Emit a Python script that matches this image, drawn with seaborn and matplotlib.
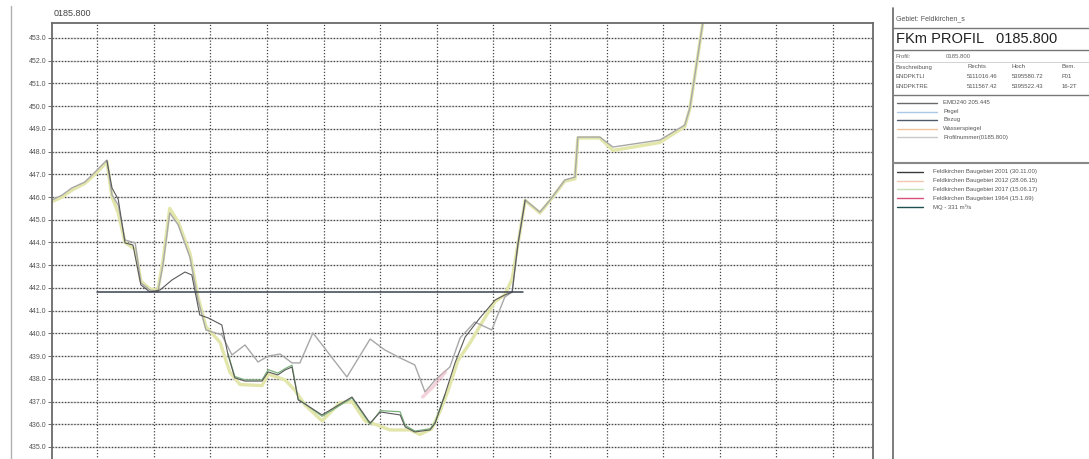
import matplotlib
matplotlib.use("Agg")
import matplotlib.pyplot as plt
from matplotlib.lines import Line2D
import seaborn as sns
import numpy as np

gray_x = [0.0, 1.8, 3.5, 5.8, 7.6, 9.7, 10.6, 11.7, 12.9, 14.7, 15.7, 17.3, 18.7, 19.6, 20.8, 22.3,
          24.4, 25.8, 27.2, 30.0, 31.8, 34.1, 36.4, 38.2, 40.3, 42.4, 43.8, 46.1, 49.1, 52.1, 56.2,
          58.8, 61.5, 64.1, 65.9, 67.7, 70.3, 72.1, 74.7, 77.7, 80.0, 81.3, 82.3, 83.6, 86.2, 88.0,
          90.6, 92.4, 92.9, 96.8, 99.1, 107.4, 111.8, 112.7, 115.0]
gray_y = [445.87, 446.09, 446.40, 446.66, 447.10, 447.63, 446.09, 445.65, 444.11, 443.98, 442.22,
          441.91, 441.82, 443.01, 445.30, 444.77, 443.32, 441.47, 440.15, 439.93, 439.05, 439.49,
          438.74, 439.00, 439.09, 438.70, 438.70, 440.02, 439.05, 438.08, 439.75, 439.27, 438.92,
          438.61, 437.42, 437.95, 438.52, 439.80, 440.50, 440.15, 441.60, 441.82, 443.89, 445.87,
          445.34, 445.87, 446.75, 446.88, 448.64, 448.64, 448.20, 448.51, 449.17, 449.92, 453.70]

yellow_x = [0.0, 1.8, 3.5, 5.8, 7.6, 9.7, 10.6, 11.7, 12.9, 14.7, 15.7, 17.3, 18.7, 19.6, 20.8, 22.3,
            24.4, 25.8, 27.2, 29.7, 31.4, 33.2, 37.1, 38.2, 41.2, 42.9, 44.7, 47.7, 50.9, 53.0, 55.3,
            57.6, 59.7, 63.3, 65.0, 67.1, 68.6, 70.0, 71.7, 73.9, 76.5, 78.3, 80.0, 81.3, 82.3, 83.6,
            86.2, 88.0, 90.6, 92.4, 92.9, 96.8, 99.1, 107.4, 111.8, 112.7, 115.0]
yellow_y = [445.80, 446.00, 446.30, 446.60, 447.00, 447.55, 446.00, 445.30, 444.00, 443.70, 442.30,
            441.95, 441.90, 443.20, 445.50, 444.90, 443.50, 441.60, 440.30, 439.60, 438.30, 437.75,
            437.70, 438.20, 437.95, 437.50, 436.85, 436.15, 436.95, 437.00, 436.15, 435.95, 435.75,
            435.75, 435.55, 435.80, 436.60, 437.50, 438.80, 439.60, 440.70, 441.40, 441.70, 442.40,
            443.90, 445.85, 445.30, 445.85, 446.70, 446.80, 448.60, 448.60, 448.05, 448.40, 449.10,
            449.90, 453.70]

dark_x = [9.7, 10.6, 11.7, 12.9, 14.3, 15.7, 17.3, 19.1, 21.2, 23.5, 24.7, 26.1, 27.6, 30.0, 31.1,
          32.3, 34.1, 37.1, 38.2, 39.9, 41.2, 42.4, 43.5, 44.7, 47.7, 53.0, 56.2, 58.0, 61.5, 62.4,
          64.1, 66.8, 67.7, 69.4, 71.2, 73.0, 75.6, 78.3, 80.0, 81.3, 82.3, 83.6]
dark_y = [447.60, 446.40, 445.90, 443.98, 443.89, 442.13, 441.82, 441.91, 442.35, 442.70, 442.57,
          440.81, 440.68, 440.37, 439.05, 438.04, 437.90, 437.90, 438.30, 438.17, 438.39, 438.52,
          437.07, 436.89, 436.41, 437.20, 436.05, 436.54, 436.41, 435.88, 435.66, 435.75, 436.05,
          437.29, 438.70, 439.84, 440.68, 441.47, 441.69, 441.82, 443.89, 445.87]

green_x = [31.1, 32.3, 34.1, 37.1, 38.2, 39.9, 41.2, 42.4, 43.5, 44.7, 47.7, 53.0, 56.2, 58.0, 61.5,
           62.4, 64.1, 66.8, 67.7, 69.4]
green_y = [439.10, 438.10, 437.95, 437.95, 438.40, 438.25, 438.45, 438.60, 437.10, 436.90, 436.35,
           437.15, 436.00, 436.60, 436.55, 435.95, 435.70, 435.80, 436.10, 437.30]

pink_x = [65.5, 67.5, 69.5]
pink_y = [437.20, 437.70, 438.30]

mq_x = [8.0, 83.2]
mq_y = [441.82, 441.82]

y_ticks = np.arange(435, 454, 1.0)
x_grid = np.arange(8, 140, 10)

legend1 = ["EMD240 205.445", "Pegel", "Bezug", "Wasserspiegel", "Profilnummer(0185.800)"]
legend1_colors = ["#6a6a6a", "#a9c9e6", "#4f5a6a", "#f0c49a", "#c9c9c9"]
legend2 = ["Feldkirchen Baugebiet 2001 (30.11.00)", "Feldkirchen Baugebiet 2012 (28.06.15)",
           "Feldkirchen Baugebiet 2017 (15.06.17)", "Feldkirchen Baugebiet 1964 (15.1.69)",
           "MQ - 331 m³/s"]
legend2_colors = ["#3a3a3a", "#f2c6b2", "#c2e3b8", "#d8507a", "#1f4f4f"]

sns.set_theme(style="white")
plt.rcParams["font.family"] = ["Liberation Sans", "DejaVu Sans"]

W, H = 1089, 459
fig = plt.figure(figsize=(W / 100, H / 100), dpi=100)


def fx(p):
    return p / W


def fy(p):
    return 1 - p / H


# main axis: bottom runs off the lower edge of the sheet
ax = fig.add_axes([fx(52), fy(492.4), fx(873 - 52), (492.4 - 23) / H])
ax.set_xlim(0, 145.05)
ax.set_ylim(433.0, 453.66)

for y in y_ticks:
    ax.axhline(y, color="#d2d2d2", lw=1.0, zorder=0)
ax.set_yticks(y_ticks)
ax.set_yticklabels([f"{v:.1f}" for v in y_ticks])
ax.set_xticks(x_grid)
ax.grid(True, color="#444444", linestyle=(0, (1, 1.5)), linewidth=0.9)
ax.tick_params(axis="y", labelsize=5, labelcolor="#555555", length=3, width=0.6,
               color="#555555", pad=1, left=True)
ax.tick_params(axis="x", labelbottom=False, bottom=False)
for s in ["left", "top", "right"]:
    ax.spines[s].set_color("#6a6a6a")
    ax.spines[s].set_linewidth(1.3)

sns.lineplot(x=yellow_x, y=yellow_y, ax=ax, color="#e3e6aa", linewidth=2.4, sort=False, estimator=None)
sns.lineplot(x=gray_x, y=gray_y, ax=ax, color="#a8a8a8", linewidth=1.0, sort=False, estimator=None)
sns.lineplot(x=green_x, y=green_y, ax=ax, color="#7cb27e", linewidth=0.9, sort=False, estimator=None)
sns.lineplot(x=dark_x, y=dark_y, ax=ax, color="#5a5a5a", linewidth=0.8, sort=False, estimator=None)
sns.lineplot(x=pink_x, y=pink_y, ax=ax, color="#eab0be", linewidth=2.5, alpha=0.55, sort=False, estimator=None)
sns.lineplot(x=mq_x, y=mq_y, ax=ax, color="#3b4250", linewidth=1.1, sort=False, estimator=None)

fig.text(fx(54), fy(13), "0185.800", fontsize=6.5, color="#444444", va="center")

# frame lines of the sheet
fig.add_artist(Line2D([fx(11), fx(11)], [0, fy(6)], color="#b0b0b0", lw=1.0))
fig.add_artist(Line2D([fx(893), fx(893)], [0, fy(8)], color="#666666", lw=1.2))
for yy, c, lw in [(28, "#777777", 1.0), (50, "#777777", 1.0), (62, "#cccccc", 0.6),
                  (95, "#777777", 1.0), (163, "#888888", 1.5)]:
    fig.add_artist(Line2D([fx(893), 1], [fy(yy), fy(yy)], color=c, lw=lw))

# title block
fig.text(fx(896), fy(19), "Gebiet: Feldkirchen_s", fontsize=5, color="#555555", va="center")
fig.text(fx(896), fy(39), "FKm PROFIL   0185.800", fontsize=10.5, color="#222222", va="center")
fig.text(fx(896), fy(57), "Profil:", fontsize=4.3, color="#666666", va="center")
fig.text(fx(946), fy(57), "0185.800", fontsize=4.3, color="#666666", va="center")
rows = [("Beschreibung", "Rechts", "Hoch", "Bem."),
        ("ENDPKTLI", "5111016.46", "5395580.72", "F01"),
        ("ENDPKTRE", "5111567.42", "5395522.43", "16-2T")]
for i, row in enumerate(rows):
    yy = fy(67 + i * 9.5)
    fig.text(fx(896), yy, row[0], fontsize=4.3, color="#555555", va="center")
    fig.text(fx(967), yy, row[1], fontsize=4.3, color="#555555", va="center")
    fig.text(fx(1012), yy, row[2], fontsize=4.3, color="#555555", va="center")
    fig.text(fx(1062), yy, row[3], fontsize=4.3, color="#555555", va="center")

for i, (lab, col) in enumerate(zip(legend1, legend1_colors)):
    yy = fy(103 + i * 8.5)
    fig.add_artist(Line2D([fx(897), fx(937)], [yy, yy], color=col, lw=1.0))
    fig.text(fx(943), yy, lab, fontsize=4.3, color="#555555", va="center")

for i, (lab, col) in enumerate(zip(legend2, legend2_colors)):
    yy = fy(172 + i * 8.7)
    fig.add_artist(Line2D([fx(897), fx(923)], [yy, yy], color=col, lw=1.0))
    fig.text(fx(933), yy, lab, fontsize=4.3, color="#555555", va="center")

fig.savefig("out.png", dpi=100, facecolor="white")
